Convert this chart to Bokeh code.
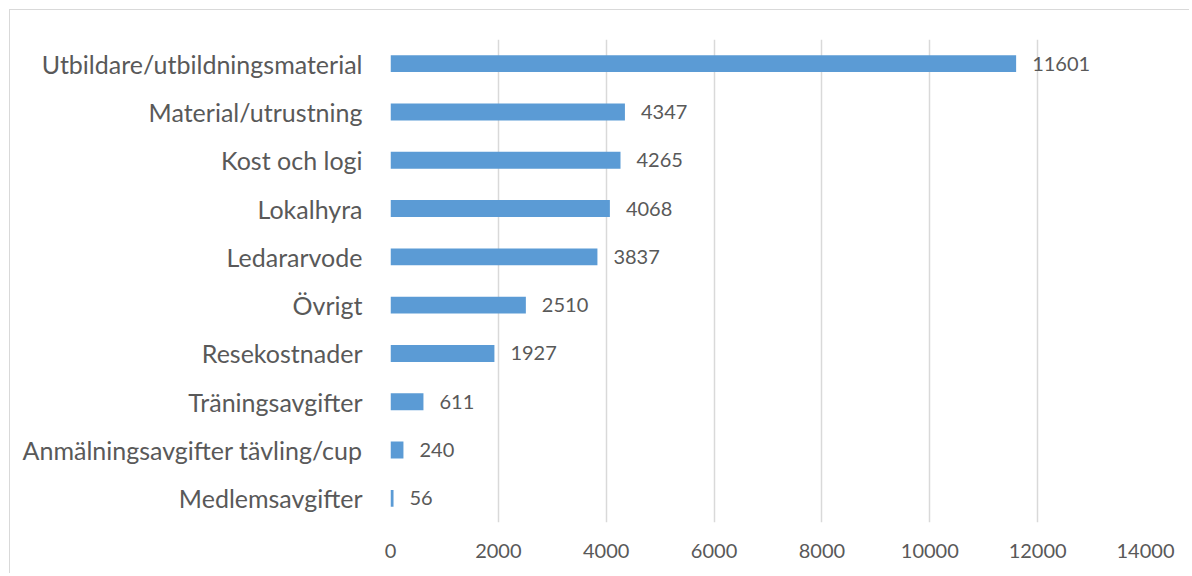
from bokeh.plotting import figure
from bokeh.models import ColumnDataSource, Range1d, FactorRange, FixedTicker
from bokeh.core.properties import value
from bokeh.embed import file_html
from bokeh.resources import INLINE

categories = ["Medlemsavgifter", "Anmälningsavgifter tävling/cup", "Träningsavgifter",
              "Resekostnader", "Övrigt", "Ledararvode", "Lokalhyra", "Kost och logi",
              "Material/utrustning", "Utbildare/utbildningsmaterial"]
values = [56, 240, 611, 1927, 2510, 3837, 4068, 4265, 4347, 11601]
x_ticks = [0, 2000, 4000, 6000, 8000, 10000, 12000, 14000]

src = ColumnDataSource(dict(cat=categories, val=values, lab=[str(v) for v in values]))

FONT = "Lato"
TXT = "#595959"

W, H = 1180, 564
ML, MT, FW, FH = 380, 29, 755, 483

p = figure(width=W, height=H, output_backend="svg", toolbar_location=None,
           y_range=FactorRange(factors=categories, range_padding=0),
           x_range=Range1d(0, 14000),
           min_border_left=ML, min_border_right=W - ML - FW,
           min_border_top=MT, min_border_bottom=H - MT - FH,
           styles={"margin-left": "9px", "margin-top": "9px",
                   "border-left": "1.5px solid #d9d9d9", "border-top": "1.5px solid #d9d9d9"})
p.outline_line_color = None
p.background_fill_color = "white"
p.border_fill_color = "white"

p.hbar(y="cat", right="val", left=0, height=0.35, source=src,
       fill_color="#5B9BD5", line_color=None)
p.text(x="val", y="cat", text="lab", source=src, x_offset=16,
       text_align="left", text_baseline="middle",
       text_font=value(FONT), text_font_size="20px", text_color=TXT)

p.xaxis.ticker = FixedTicker(ticks=x_ticks)
p.xaxis.axis_line_color = None
p.xaxis.major_tick_line_color = None
p.xaxis.minor_tick_line_color = None
p.xaxis.major_tick_out = 0
p.xaxis.major_label_standoff = 21
p.xaxis.major_label_text_font = FONT
p.xaxis.major_label_text_font_size = "20px"
p.xaxis.major_label_text_color = TXT

p.yaxis.axis_line_color = None
p.yaxis.major_tick_line_color = None
p.yaxis.major_tick_out = 0
p.yaxis.major_label_standoff = 28
p.yaxis.major_label_text_font = FONT
p.yaxis.major_label_text_font_size = "25px"
p.yaxis.major_label_text_color = TXT

p.xgrid.grid_line_color = "#d9d9d9"
p.xgrid.grid_line_width = 1.5
p.ygrid.grid_line_color = None

open("out.html", "w").write(file_html(p, INLINE))
